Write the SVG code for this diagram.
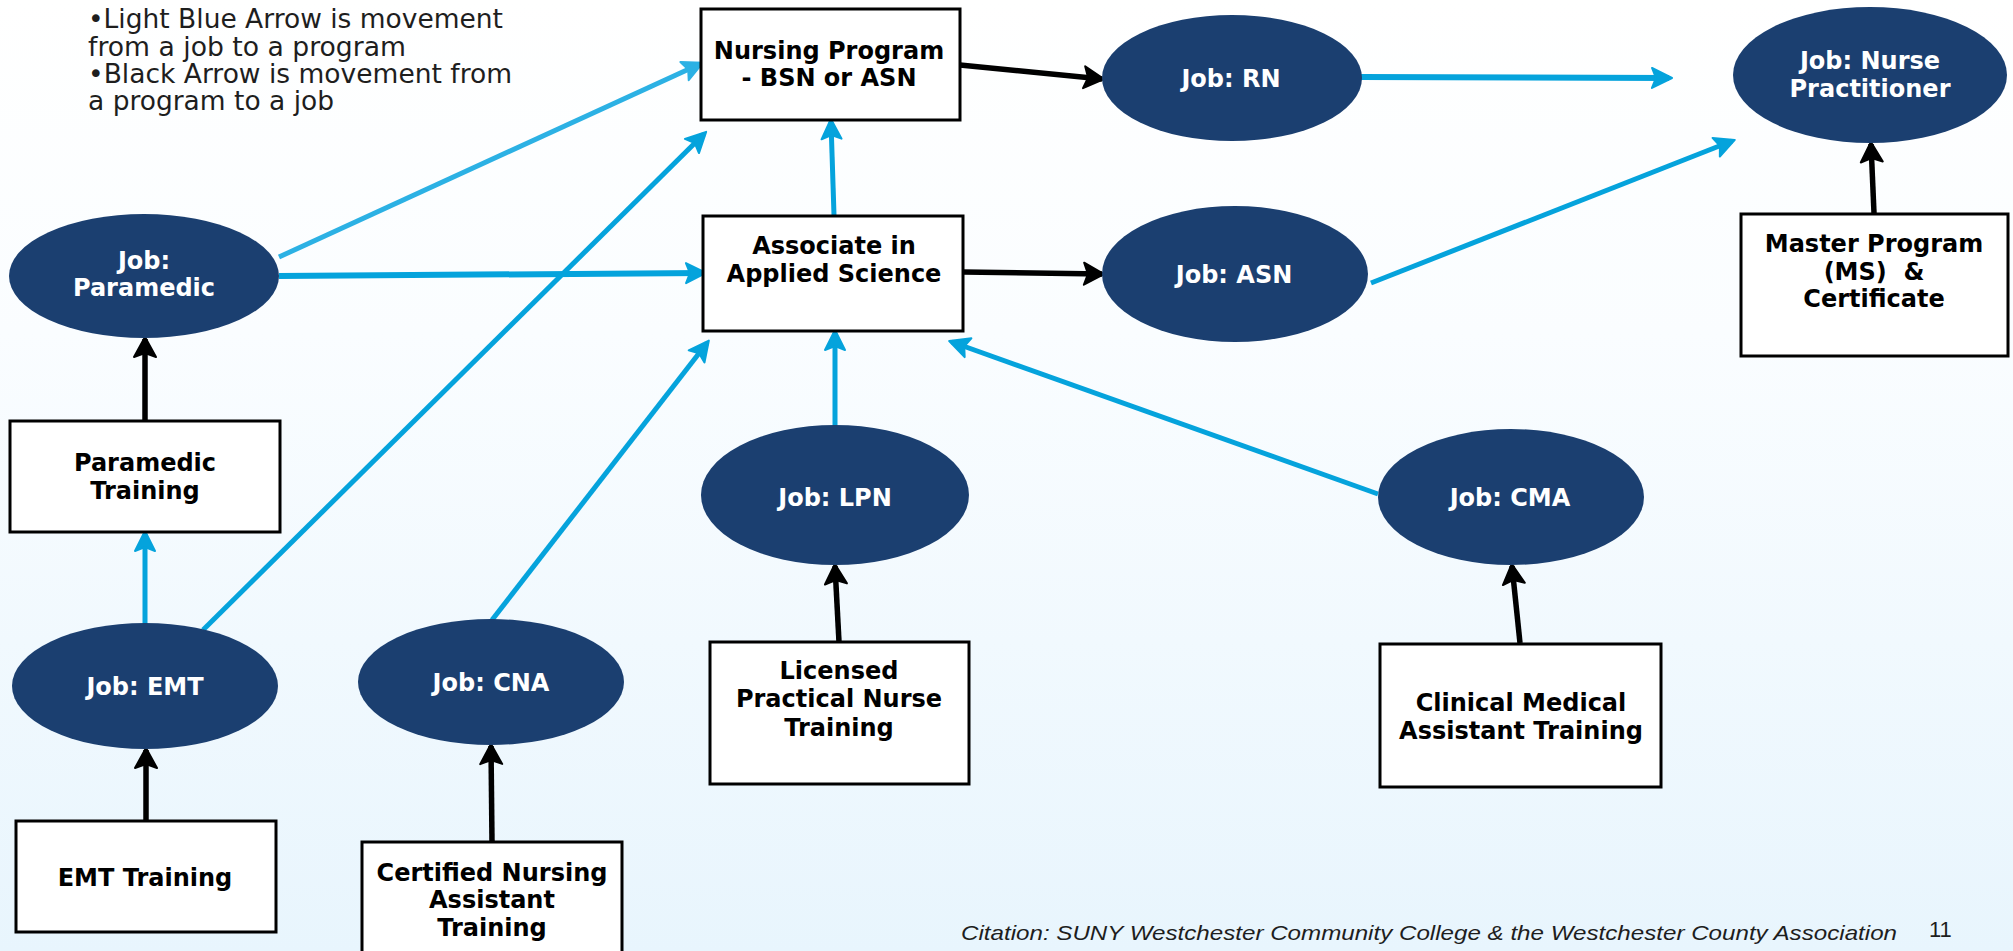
<svg xmlns="http://www.w3.org/2000/svg" width="2013" height="951" viewBox="0 0 2013 951">
<defs>
<linearGradient id="bg" x1="0" y1="0" x2="0" y2="1">
<stop offset="0" stop-color="#ffffff"/>
<stop offset="0.35" stop-color="#fafdff"/>
<stop offset="1" stop-color="#e8f5fd"/>
</linearGradient>
<marker id="ab" markerUnits="userSpaceOnUse" markerWidth="24" markerHeight="24" viewBox="-2 -2 24 24" refX="17" refY="10" orient="auto">
<path d="M0,0 L20,10 L0,20 L4,10 Z" fill="#05a3dc" stroke="#05a3dc" stroke-width="2" stroke-linejoin="round"/>
</marker>
<marker id="al" markerUnits="userSpaceOnUse" markerWidth="24" markerHeight="24" viewBox="-2 -2 24 24" refX="17" refY="10" orient="auto">
<path d="M0,0 L20,10 L0,20 L4,10 Z" fill="#2cb1e4" stroke="#2cb1e4" stroke-width="2" stroke-linejoin="round"/>
</marker>
<marker id="ak" markerUnits="userSpaceOnUse" markerWidth="26" markerHeight="26" viewBox="-2 -2 26 26" refX="18" refY="11" orient="auto">
<path d="M0,0 L20,11 L0,22 L4,11 Z" fill="#000" stroke="#000" stroke-width="2" stroke-linejoin="round"/>
</marker>
</defs>
<style>
.box{fill:#fff;stroke:#000;stroke-width:3}
.job{fill:#1b3f70}
.bt{font-family:"DejaVu Sans","Liberation Sans",sans-serif;font-weight:bold;font-size:24px;fill:#000;text-anchor:middle}
.jt{font-family:"DejaVu Sans","Liberation Sans",sans-serif;font-weight:bold;font-size:24px;fill:#fff;text-anchor:middle}
.leg{font-family:"DejaVu Sans","Liberation Sans",sans-serif;font-size:26px;fill:#1e1e1e}
.blue{stroke:#05a3dc;stroke-width:5;fill:none;marker-end:url(#ab)}
.lblue{stroke:#2cb1e4;stroke-width:5;fill:none;marker-end:url(#al)}
.blk{stroke:#000;stroke-width:5.5;fill:none;marker-end:url(#ak)}
</style>
<rect x="0" y="0" width="2013" height="951" fill="url(#bg)"/>

<g id="legend">
<text class="leg" x="88" y="28" textLength="415" lengthAdjust="spacingAndGlyphs">•Light Blue Arrow is movement</text>
<text class="leg" x="88" y="56" textLength="318" lengthAdjust="spacingAndGlyphs">from a job to a program</text>
<text class="leg" x="88" y="83" textLength="424" lengthAdjust="spacingAndGlyphs">•Black Arrow is movement from</text>
<text class="leg" x="88" y="110" textLength="246" lengthAdjust="spacingAndGlyphs">a program to a job</text>
</g>

<g id="connectors">
<line class="lblue" x1="279" y1="257" x2="700" y2="64"/>
<line class="blue" x1="279" y1="276" x2="703" y2="273" style="stroke-width:6"/>
<line class="blue" x1="203" y1="630" x2="704" y2="134"/>
<line class="blue" x1="492" y1="620" x2="707" y2="343"/>
<line class="blue" x1="834" y1="215" x2="831" y2="122"/>
<line class="blue" x1="835" y1="428" x2="835" y2="333"/>
<line class="blue" x1="1378" y1="494" x2="952" y2="342"/>
<line class="blue" x1="145" y1="624" x2="145" y2="534"/>
<line class="blue" x1="1360" y1="77" x2="1669" y2="78" style="stroke-width:6"/>
<line class="blue" x1="1371" y1="283" x2="1732" y2="141"/>
<line class="blk" x1="960" y1="65" x2="1102" y2="79"/>
<line class="blk" x1="963" y1="272" x2="1102" y2="274"/>
<line class="blk" x1="145" y1="421" x2="145" y2="339"/>
<line class="blk" x1="146" y1="821" x2="146" y2="750"/>
<line class="blk" x1="492" y1="842" x2="491" y2="746"/>
<line class="blk" x1="839" y1="642" x2="835" y2="566"/>
<line class="blk" x1="1520" y1="643" x2="1512" y2="566"/>
<line class="blk" x1="1874" y1="213" x2="1871" y2="144"/>
</g>

<g id="nursing-program">
<rect class="box" x="701" y="9" width="259" height="111"/>
<text class="bt" x="829" y="59">Nursing Program</text>
<text class="bt" x="829" y="86">- BSN or ASN</text>
</g>
<g id="associate">
<rect class="box" x="703" y="216" width="260" height="115"/>
<text class="bt" x="834" y="254">Associate in</text>
<text class="bt" x="834" y="282">Applied Science</text>
</g>
<g id="job-rn">
<ellipse class="job" cx="1232" cy="78" rx="130" ry="63"/>
<text class="jt" x="1231" y="87">Job: RN</text>
</g>
<g id="job-asn">
<ellipse class="job" cx="1235" cy="274" rx="133" ry="68"/>
<text class="jt" x="1234" y="283">Job: ASN</text>
</g>
<g id="job-np">
<ellipse class="job" cx="1870" cy="75" rx="137" ry="68"/>
<text class="jt" x="1870" y="69">Job: Nurse</text>
<text class="jt" x="1870" y="97">Practitioner</text>
</g>
<g id="master-program">
<rect class="box" x="1741" y="214" width="267" height="142"/>
<text class="bt" x="1874" y="252">Master Program</text>
<text class="bt" x="1874" y="280">(MS)&#160; &amp;</text>
<text class="bt" x="1874" y="307">Certificate</text>
</g>
<g id="job-paramedic">
<ellipse class="job" cx="144" cy="276" rx="135" ry="62"/>
<text class="jt" x="144" y="269">Job:</text>
<text class="jt" x="144" y="296">Paramedic</text>
</g>
<g id="paramedic-training">
<rect class="box" x="10" y="421" width="270" height="111"/>
<text class="bt" x="145" y="471">Paramedic</text>
<text class="bt" x="145" y="499">Training</text>
</g>
<g id="job-emt">
<ellipse class="job" cx="145" cy="686" rx="133" ry="63"/>
<text class="jt" x="145" y="695">Job: EMT</text>
</g>
<g id="emt-training">
<rect class="box" x="16" y="821" width="260" height="111"/>
<text class="bt" x="145" y="886">EMT Training</text>
</g>
<g id="job-cna">
<ellipse class="job" cx="491" cy="682" rx="133" ry="63"/>
<text class="jt" x="491" y="691">Job: CNA</text>
</g>
<g id="cna-training">
<rect class="box" x="362" y="842" width="260" height="115"/>
<text class="bt" x="492" y="881">Certified Nursing</text>
<text class="bt" x="492" y="908">Assistant</text>
<text class="bt" x="492" y="936">Training</text>
</g>
<g id="job-lpn">
<ellipse class="job" cx="835" cy="495" rx="134" ry="70"/>
<text class="jt" x="835" y="506">Job: LPN</text>
</g>
<g id="lpn-training">
<rect class="box" x="710" y="642" width="259" height="142"/>
<text class="bt" x="839" y="679">Licensed</text>
<text class="bt" x="839" y="707">Practical Nurse</text>
<text class="bt" x="839" y="736">Training</text>
</g>
<g id="job-cma">
<ellipse class="job" cx="1511" cy="497" rx="133" ry="68"/>
<text class="jt" x="1510" y="506">Job: CMA</text>
</g>
<g id="cma-training">
<rect class="box" x="1380" y="644" width="281" height="143"/>
<text class="bt" x="1521" y="711">Clinical Medical</text>
<text class="bt" x="1521" y="739">Assistant Training</text>
</g>

<g id="footer">
<text x="961" y="940" font-family="Liberation Sans, sans-serif" font-style="italic" font-size="21" fill="#1e1e1e" textLength="936" lengthAdjust="spacingAndGlyphs">Citation: SUNY Westchester Community College &amp; the Westchester County Association</text>
<text x="1929" y="937" font-family="Liberation Sans, sans-serif" font-size="22" fill="#1e1e1e">11</text>
</g>
</svg>
